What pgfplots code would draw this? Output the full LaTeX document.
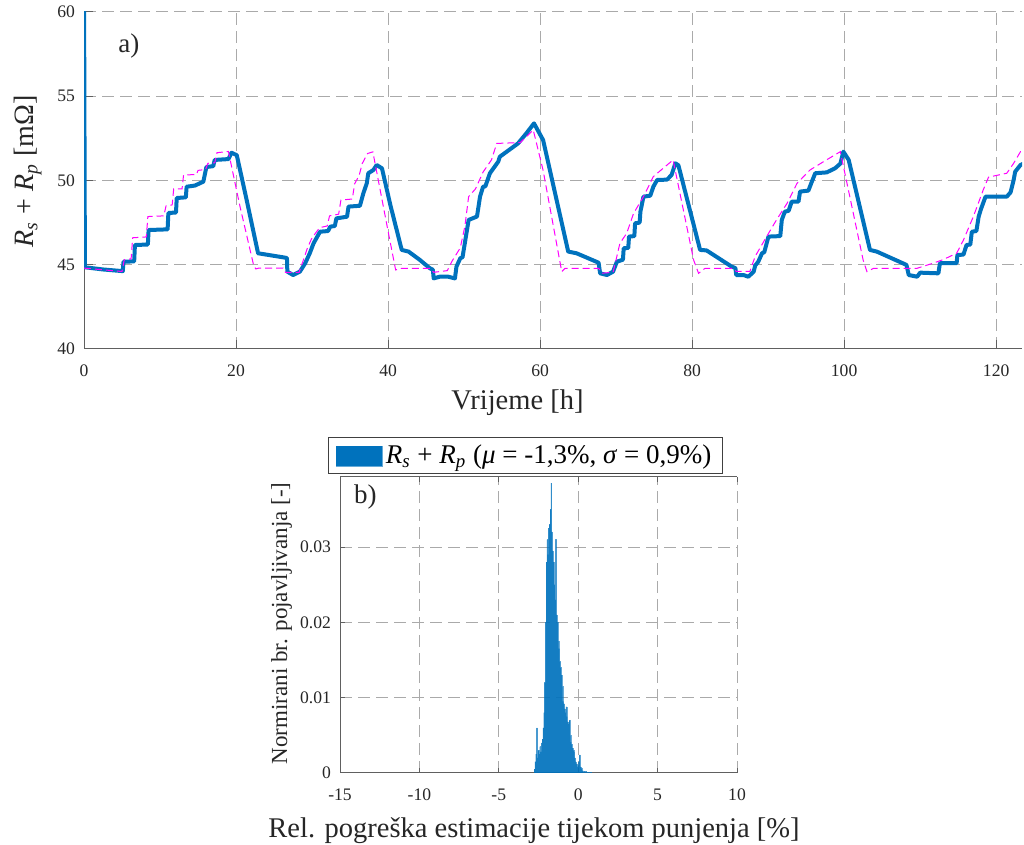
\documentclass[border=0pt]{standalone}
\usepackage{fontspec}
\setmainfont{Liberation Serif}
\usepackage{pgfplots}
\usepackage{pgfplotstable}
\pgfplotsset{compat=1.18}
\definecolor{mblue}{RGB}{0,114,189}
\definecolor{mag}{RGB}{255,0,255}
\definecolor{gridc}{RGB}{170,170,170}
\definecolor{axc}{RGB}{96,96,96}

\pgfplotstableread{
x y
0 62
0.12 44.85
2.5 44.72
5.1 44.62
5.2 45.18
6.6 45.2
6.7 46.17
8.4 46.2
8.5 47.06
11.0 47.1
11.1 48.07
12.1 48.1
12.2 48.96
13.4 49.0
13.5 49.63
14.6 49.7
15.7 49.93
16.1 50.8
17.0 50.85
17.2 51.22
19.0 51.27
19.4 51.65
20.1 51.5
21.4 48.84
22.9 45.68
26.2 45.44
26.7 45.4
26.75 44.59
27.5 44.39
28.4 44.59
29.1 45.09
29.7 45.68
30.2 46.27
31.05 46.96
32.1 47.0
32.4 47.26
33.0 47.3
33.2 47.75
34.6 47.85
34.8 48.45
36.3 48.5
36.75 49.24
37.2 49.83
37.4 50.43
38.07 50.62
38.5 50.92
39.2 50.72
40.3 48.55
41.8 45.88
42.7 45.78
44.2 45.28
45.5 44.79
45.9 44.7
46.0 44.19
46.8 44.29
47.9 44.29
48.8 44.19
49.0 44.89
49.5 45.38
49.8 45.45
50.6 47.66
51.7 47.86
52.1 49.04
52.5 49.63
52.8 49.65
53.4 50.43
54.5 51.12
54.7 51.41
57.1 52.2
58.2 52.8
59.2 53.39
60.4 52.4
63.7 45.78
64.8 45.68
67.7 45.12
67.9 44.49
68.8 44.39
69.6 44.59
70.1 45.18
70.9 45.3
71.0 45.98
71.6 46.0
71.7 46.67
72.4 46.7
72.5 47.46
73.1 47.5
73.2 48.15
73.6 49.04
74.5 49.1
74.9 49.63
75.4 50.03
76.7 50.05
77.3 50.33
77.8 51.02
78.2 50.9
81.05 45.88
81.9 45.85
85.2 44.89
85.7 44.8
85.8 44.39
86.75 44.39
87.4 44.29
88.1 44.59
88.3 44.95
88.7 45.18
89.2 45.68
89.5 45.75
90.04 46.67
91.6 46.7
91.8 47.66
92.2 48.15
92.7 48.2
93.1 48.74
94.0 48.75
94.2 49.34
95.3 49.4
95.75 49.93
96.2 50.43
97.7 50.48
98.8 50.72
99.5 51.0
99.9 51.71
100.6 51.22
103.4 45.88
104.3 45.78
108.2 44.99
108.5 44.39
109.6 44.29
110.0 44.53
112.4 44.49
112.6 45.09
114.8 45.09
114.9 45.58
115.7 45.6
116.1 46.17
116.6 46.2
116.8 46.96
117.4 47.0
117.7 47.86
118.0 48.3
118.6 49.04
121.4 49.04
121.9 49.3
122.3 50.03
122.5 50.52
123.2 50.92
123.6 51.0
}\blueline

\pgfplotstableread{
x y
0 44.8
5.0 44.6
5.3 45.3
6.2 45.35
6.4 46.6
8.2 46.65
8.4 47.86
10.5 47.9
10.8 48.5
11.6 48.55
11.8 49.5
12.9 49.5
13.1 50.33
14.8 50.35
15.0 50.6
16.0 50.65
16.3 51.02
17.2 51.05
17.5 51.65
19.0 51.72
20.5 48.5
22.3 45.0
22.6 44.75
23.0 44.8
26.2 44.8
26.5 44.55
28.3 44.55
28.8 45.2
29.4 46.0
30.0 46.6
31.0 47.2
32.0 47.3
32.3 47.9
33.5 48.0
33.8 48.84
35.3 48.9
35.6 49.8
36.2 50.3
36.6 51.0
37.3 51.6
38.0 51.7
40.0 47.0
41.0 44.69
41.8 44.79
45.5 44.79
46.0 44.55
47.8 44.65
48.4 45.2
49.5 46.0
50.1 47.26
50.6 49.04
51.5 49.5
52.5 50.5
53.6 51.22
54.3 52.2
57.4 52.25
59.1 53.0
60.4 50.6
62.85 44.59
63.3 44.79
67.7 44.79
68.2 44.5
69.6 44.55
70.0 45.3
70.5 46.27
71.4 46.87
72.3 48.05
73.6 49.04
74.9 50.23
75.6 50.5
77.5 51.22
80.2 45.28
80.85 44.49
81.7 44.79
85.4 44.79
85.8 44.6
87.6 44.6
88.3 45.5
89.8 46.67
91.1 47.66
92.5 48.65
93.8 49.83
95.5 50.62
97.3 51.12
99.5 51.71
102.5 45.28
103.0 44.59
103.9 44.79
109.6 44.79
111.7 45.09
113.0 45.3
114.8 45.68
115.7 46.47
117.0 47.86
118.3 49.44
119.0 50.2
121.4 50.43
122.3 51.02
123.2 51.71
123.6 51.75
}\refline

\pgfplotstableread{
x y
-2.75 0.0005
-2.70 0.0015
-2.65 0.0025
-2.60 0.0060
-2.55 0.0020
-2.50 0.0030
-2.45 0.0025
-2.40 0.0035
-2.35 0.0028
-2.30 0.0040
-2.25 0.0045
-2.20 0.0060
-2.15 0.0080
-2.10 0.0120
-2.05 0.0200
-2.00 0.0280
-1.95 0.0310
-1.90 0.0290
-1.85 0.0325
-1.80 0.0330
-1.75 0.0350
-1.70 0.0385
-1.65 0.0320
-1.60 0.0295
-1.55 0.0280
-1.50 0.0250
-1.45 0.0230
-1.40 0.0310
-1.35 0.0210
-1.30 0.0200
-1.25 0.0175
-1.20 0.0165
-1.15 0.0148
-1.10 0.0140
-1.05 0.0130
-1.00 0.0115
-0.95 0.0095
-0.90 0.0092
-0.85 0.0085
-0.80 0.0080
-0.75 0.0088
-0.70 0.0075
-0.65 0.0068
-0.60 0.0065
-0.55 0.0070
-0.50 0.0050
-0.45 0.0041
-0.40 0.0038
-0.35 0.0033
-0.30 0.0030
-0.25 0.0028
-0.20 0.0020
-0.15 0.0015
-0.10 0.0012
-0.05 0.0008
0.00 0.0010
0.05 0.0015
0.10 0.0024
0.15 0.0008
0.20 0.0006
0.25 0.0003
0.30 0.0003
0.40 0.0002
0.50 0.0002
0.60 0.0001
0.70 0.0001
0.80 0.0001
}\histdata

\begin{document}
\begin{tikzpicture}
\path[use as bounding box] (0,0) rectangle (512pt,422.5pt);
% ---------- a) ----------
\begin{axis}[
  at={(42pt,248pt)}, anchor=south west,
  scale only axis, width=469pt, height=168.5pt,
  xmin=0, xmax=123.4, ymin=40, ymax=60,
  axis x line*=bottom, axis y line*=left,
  axis line style={axc, line width=0.5pt},
  xtick={0,20,40,60,80,100,120}, xticklabels={0,20,40,60,80,100,120},
  ytick={40,45,50,55,60}, yticklabels={40,45,50,55,60},
  tick align=inside, major tick length=4.5pt,
  tick style={axc, line width=0.5pt},
  ticklabel style={font=\fontsize{8.8}{10}\selectfont, text=black!85},
  xticklabel style={yshift=-4.5pt},
  yticklabel style={xshift=-1pt},
  grid=major,
  major grid style={gridc, dash pattern=on 6pt off 3pt, line width=0.5pt},
]
\addplot[mblue, line width=2pt, line join=round] table {\blueline};
\addplot[mag, line width=0.5pt, dash pattern=on 3.5pt off 2pt] table {\refline};
\node[font=\fontsize{13.5}{16}\selectfont, text=black!85] at (axis cs:5.9,58.0) {a)};
\end{axis}
% ---------- b) ----------
\begin{axis}[
  at={(170pt,36pt)}, anchor=south west,
  scale only axis, width=198.5pt, height=148pt,
  xmin=-15, xmax=10, ymin=0, ymax=0.0393,
  axis x line*=box, axis y line*=left,
  axis line style={axc, line width=0.5pt},
  xtick={-15,-10,-5,0,5,10}, xticklabels={-15,-10,-5,0,5,10},
  ytick={0,0.01,0.02,0.03}, yticklabels={0,0.01,0.02,0.03},
  tick align=inside, major tick length=2.5pt,
  tick style={axc, line width=0.5pt},
  ticklabel style={font=\fontsize{8.8}{10}\selectfont, text=black!85},
  xticklabel style={yshift=-4.5pt},
  yticklabel style={xshift=-1pt},
  grid=major,
  major grid style={gridc, dash pattern=on 6pt off 3pt, line width=0.5pt},
  legend style={at={(0.467,1.01)}, anchor=south, draw=black!75, line width=0.5pt,
    fill=white, font=\fontsize{13.5}{16}\selectfont, inner xsep=3.5pt, inner ysep=1.5pt},
]
\addplot[ybar, bar width=0.05, fill=mblue, fill opacity=0.8, draw=mblue, draw opacity=0.6,
  line width=0.15pt,
  legend image code/.code={\fill[mblue, fill opacity=1] (0pt,-5pt) rectangle (23pt,5pt);}] table {\histdata};
\addlegendentry{\textit{R}\textsubscript{\textit{s}} + \textit{R}\textsubscript{\textit{p}} (\textit{μ} = -1,3\%, \textit{σ} = 0,9\%)}
\node[font=\fontsize{13.5}{16}\selectfont, text=black!85] at (axis cs:-13.4,0.0367) {b)};
\end{axis}
% ---------- axis labels ----------
\node[anchor=base, font=\fontsize{14.25}{17}\selectfont, text=black!85] at (258.75pt,217.5pt) {Vrijeme [h]};
\node[anchor=base, rotate=90, font=\fontsize{14}{17}\selectfont, text=black!85] at (16.5pt,336.75pt)
  {\textit{R}\textsubscript{\textit{s}} + \textit{R}\textsubscript{\textit{p}} [mΩ]};
\node[anchor=base, font=\fontsize{14.25}{17}\selectfont, text=black!85] at (267pt,3.5pt)
  {Rel. pogreška estimacije tijekom punjenja [\%]};
\node[anchor=base, rotate=90, font=\fontsize{11.5}{14}\selectfont, text=black!85] at (143.5pt,110.75pt)
  {Normirani br. pojavljivanja [-]};
\end{tikzpicture}
\end{document}
